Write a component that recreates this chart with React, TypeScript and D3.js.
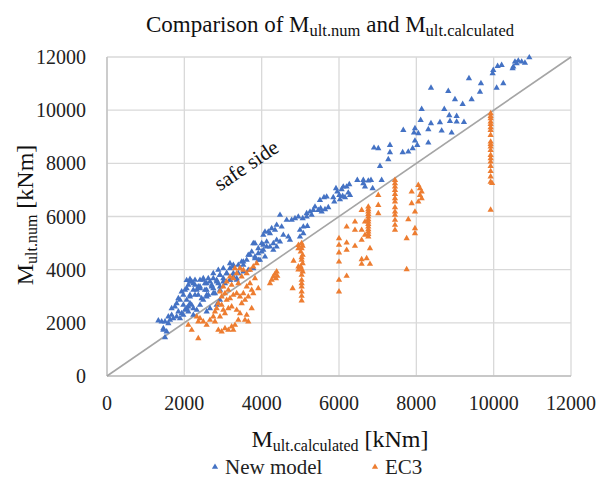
import React from "react";
import * as d3 from "d3";

const width = 603;
const height = 485;
const margin = { top: 57, right: 32, bottom: 109, left: 107 };

const xTicks = [0, 2000, 4000, 6000, 8000, 10000, 12000];
const yTicks = [0, 2000, 4000, 6000, 8000, 10000, 12000];

const seriesNames = ["New model", "EC3"];
const seriesColors = ["#4472C4", "#ED7D31"];

// [M_ult.calculated, M_ult.num] in kNm
const newModel: [number, number][] = [
  [10922, 11980], [10809, 11781], [10724, 11819], [10637, 11857], [10551, 11819], [10508, 11631],
  [10491, 11568], [10594, 11757], [10206, 11694], [10102, 11656], [9990, 11506], [9973, 11380],
  [10249, 11005], [10077, 10840], [9671, 11005], [9646, 10690], [9361, 11193], [8826, 10716],
  [8379, 10840], [8999, 10404], [9198, 10227], [9430, 10404], [8138, 10039], [8723, 10039],
  [8852, 9802], [9043, 9776], [8870, 9588], [9043, 9563], [9232, 9550], [8611, 9538],
  [8379, 9500], [8112, 9626], [7965, 9312], [7939, 9149], [8051, 9124], [7663, 9250],
  [8310, 9274], [8655, 9224], [8913, 9149], [7965, 8848], [8025, 8686], [7905, 8560],
  [7792, 8434], [7646, 8409], [8310, 8773],
  [7318, 8686], [7016, 8560], [6905, 8585], [7318, 8410], [7275, 8147], [7060, 7896],
  [7103, 7370], [6827, 7370], [6758, 7344], [6629, 7370], [6474, 7370], [6629, 7244],
  [6672, 7118], [6870, 7057], [6266, 7207], [6197, 7118], [6111, 7118], [6068, 7018],
  [5922, 7057], [5956, 6930], [6008, 6806], [6240, 6893], [6284, 6806], [6155, 6719],
  [6025, 6644], [5878, 6554], [5681, 6743], [5612, 6719], [5723, 6343], [5638, 6268],
  [5508, 6618], [5465, 6242], [5552, 6178], [5336, 6242], [5250, 6178], [5164, 6117],
  [5293, 6054], [5164, 5990], [5061, 5929], [5078, 5614], [5181, 5640], [4991, 5490],
  [5078, 5365], [4991, 5238], [5379, 6366], [5852, 6719], [6094, 6768], [5525, 6305],
  [4948, 5990], [4862, 5929], [4776, 5866], [4647, 5866], [4474, 6054], [4517, 5614],
  [4388, 5678], [4345, 5490], [4259, 5553], [4215, 5365], [4086, 5426], [4560, 5302],
  [4689, 5238], [4732, 5114], [4474, 5050], [4388, 4862], [4302, 4738], [4129, 4862],
  [4043, 4926], [4001, 4674], [3913, 4801], [3783, 4989], [3698, 4550], [3827, 4486],
  [3913, 4362], [3613, 4362], [3483, 4298], [3526, 4174], [3439, 4050], [3396, 3862],
  [3267, 4174], [3181, 4050], [3095, 3862], [2922, 3798], [3008, 3673], [2836, 3610],
  [2749, 3673], [2663, 3546], [2577, 3484], [2490, 3610], [2405, 3358], [2534, 3234],
  [2707, 3358], [2879, 3484], [3051, 3484], [3181, 3610], [3267, 3735], [3354, 3610],
  [3526, 3923], [3654, 3986], [3783, 4050], [2922, 3234], [2749, 3109], [2620, 3046],
  [2447, 2922],
  [4172, 5426], [4043, 5302], [3827, 4989], [4001, 4989], [4129, 5050], [4302, 4989],
  [4388, 5114], [4215, 4862], [4043, 4738], [3913, 4612], [3742, 4674], [3654, 4550],
  [3827, 4425], [3956, 4362], [4086, 4486], [3526, 4298], [3396, 4174], [3267, 4110],
  [3181, 4237], [3008, 4050], [2879, 3986], [2749, 3862], [2922, 3798], [3095, 3862],
  [3267, 3862], [2620, 3673], [2490, 3673], [2405, 3610], [2146, 3546], [2276, 3422],
  [2534, 3484], [2707, 3422], [2836, 3546], [3008, 3546], [3181, 3610], [3354, 3673],
  [2060, 3298], [2233, 3234], [2405, 3298], [2577, 3234], [2749, 3298], [2922, 3358],
  [1974, 3046], [2146, 3046], [2361, 3046], [2577, 3046], [2793, 3109],
  [1328, 2080], [1414, 2042], [1500, 1454], [1543, 1667], [1457, 1792], [1629, 2106],
  [1715, 2168], [1672, 2294], [1586, 2231], [1801, 2231], [1888, 2168], [1845, 2419],
  [1931, 2356], [1974, 2294], [2017, 2482], [2060, 2544], [2103, 2607], [2146, 2732],
  [2190, 2670], [2233, 2544], [1974, 2670], [1888, 2858], [2060, 2858], [2146, 2983],
  [2276, 3046], [2320, 3234], [2361, 3358], [2233, 3484], [2190, 3546], [2103, 3422],
  [2017, 3234], [1931, 3171], [1845, 2922], [1758, 2607], [1672, 2544], [1801, 2732],
  [2103, 2419], [2233, 2294], [2320, 2482], [2276, 3610], [2146, 3640], [2060, 3600],
  [1500, 2042], [1586, 1981], [1457, 1730], [2577, 2419], [2490, 2858], [2577, 2983],
  [2836, 2670], [2922, 2858], [2663, 2544], [2405, 2670],
];

const ec3: [number, number][] = [
  [2103, 1918], [2190, 1730], [2361, 1417], [2320, 2231], [2405, 2168], [2361, 2042],
  [2490, 2042], [2577, 1918], [2663, 2106], [2749, 2231], [2793, 2419], [2836, 2544],
  [2879, 2732], [2965, 2670], [3008, 2482], [3051, 2356], [2922, 2231], [2793, 2042],
  [2879, 1730], [2965, 1667], [3051, 1792], [3138, 1730], [3224, 1855], [3267, 1730],
  [3310, 1918], [3396, 2106], [3439, 2356], [3569, 2106], [3654, 2042], [3742, 2544],
  [3613, 2294], [3354, 2482], [3224, 2607], [3138, 2544], [3095, 2858], [3181, 2922],
  [3267, 3046], [3354, 3109], [3439, 2983], [3526, 3109], [3613, 3358], [3698, 3484],
  [3742, 3234], [3654, 2983], [3569, 2858], [3483, 2732], [3396, 3484], [3483, 3735],
  [3526, 3986], [3439, 4050], [3354, 3862], [3267, 3673], [3224, 3422], [3138, 3234],
  [3051, 3109], [2965, 2983], [2922, 3171], [3008, 3358], [3095, 3546], [3181, 3735],
  [3310, 4050], [3613, 3862], [3698, 3986], [3783, 4112], [3870, 4237], [3827, 3673],
  [3783, 3109], [3913, 3298],
  [4259, 3610], [4302, 3735], [4345, 3835], [4388, 3923], [4370, 3673], [4405, 3760], [4215, 3484],
  [5034, 4989], [5060, 4888], [5034, 4801], [5010, 4674], [5060, 4550], [5034, 4463],
  [5034, 4362], [5060, 4237], [5010, 4110], [5034, 4012], [5060, 3923], [5034, 3798],
  [5034, 3610], [5034, 3484], [5034, 3358], [5034, 3170], [5034, 3008], [5034, 2831],
  [4950, 4925], [4950, 4800], [4950, 4110], [4950, 4000], [4825, 4329], [4801, 3298],
  [6000, 5177], [6000, 4926], [6000, 4637], [6000, 4298], [6000, 3610], [6000, 3170],
  [6198, 5614], [6198, 5012], [6198, 4738], [6198, 3760], [6413, 5802], [6413, 5490], [6413, 4888],
  [6758, 6366], [6758, 6268], [6758, 6178], [6758, 6091], [6758, 5990], [6758, 5892],
  [6758, 5802], [6758, 5715], [6758, 5614], [6758, 5516], [6758, 5426], [6758, 5339], [6758, 5238],
  [6672, 5802], [6672, 5302], [6586, 6242], [6586, 5490], [6586, 5114], [6586, 4387],
  [6586, 4211], [6801, 4801], [6801, 4211], [6715, 4425], [7016, 6806], [7016, 6430], [7016, 6117],
  [7448, 7370], [7448, 7244], [7448, 7118], [7448, 6994], [7448, 6843], [7448, 6681],
  [7448, 6554], [7448, 6343], [7448, 6178], [7448, 6054], [7448, 5866], [7448, 5678], [7448, 5490],
  [7750, 5177], [7750, 4012], [7792, 5892], [7879, 6930], [7879, 6493], [7965, 6178],
  [7965, 5553], [7965, 5365], [8051, 7182], [8094, 7057], [8138, 6930], [8094, 6806],
  [8138, 6681], [8051, 6554],
  [9922, 9877], [9922, 9776], [9922, 9689], [9922, 9562], [9922, 9475], [9922, 9351],
  [9922, 9250], [9922, 9062], [9922, 8810], [9922, 8723], [9922, 8622], [9922, 8498],
  [9922, 8310], [9922, 8185], [9922, 8058], [9922, 7896], [9922, 7700], [9922, 7500],
  [9922, 7300], [9960, 7250], [9922, 6250],
];

const font = "Liberation Serif";

export default function App() {
  const x = d3
    .scaleLinear()
    .domain([0, 12000])
    .range([margin.left, width - margin.right]);
  const y = d3
    .scaleLinear()
    .domain([0, 12000])
    .range([height - margin.bottom, margin.top]);

  const tri = d3.symbol(d3.symbolTriangle).size(17)();
  const diag = d3.line<number>().x(d => x(d)).y(d => y(d))([0, 12000]);

  const series = [newModel, ec3];

  return (
    <svg
      width={width}
      height={height}
      style={{ position: "absolute", left: 0, top: 0, background: "#fff", fontFamily: font }}
    >
      {/* grid */}
      {xTicks.map(t => (
        <line key={"gx" + t} x1={x(t)} x2={x(t)} y1={y(0)} y2={y(12000)} stroke="#d9d9d9" strokeWidth={1.3} />
      ))}
      {yTicks.map(t => (
        <line key={"gy" + t} x1={x(0)} x2={x(12000)} y1={y(t)} y2={y(t)} stroke="#d9d9d9" strokeWidth={1.3} />
      ))}
      <line x1={x(0)} x2={x(0)} y1={y(0)} y2={y(12000)} stroke="#bfbfbf" strokeWidth={1.3} />
      <line x1={x(0)} x2={x(12000)} y1={y(0)} y2={y(0)} stroke="#bfbfbf" strokeWidth={1.3} />

      {/* tick labels */}
      {xTicks.map(t => (
        <text key={"tx" + t} x={x(t)} y={410} textAnchor="middle" fontSize={20} fontFamily={font} fill="#222">
          {t}
        </text>
      ))}
      {yTicks.map(t => (
        <text key={"ty" + t} x={86} y={y(t)} dy="0.35em" textAnchor="end" fontSize={20} fontFamily={font} fill="#222">
          {t}
        </text>
      ))}

      {/* y = x */}
      <path d={diag || ""} stroke="#a5a5a5" strokeWidth={1.6} fill="none" />

      {/* points */}
      {series.map((pts, i) =>
        pts.map((d, j) => (
          <path
            key={i + "-" + j}
            d={tri || ""}
            transform={`translate(${x(d[0])},${y(d[1])})`}
            fill={seriesColors[i]}
          />
        ))
      )}

      <text
        x={246}
        y={165}
        transform="rotate(-34 246 165)"
        textAnchor="middle"
        dy="0.35em"
        fontSize={21}
        fontFamily={font}
        fill="#111"
      >
        safe side
      </text>

      {/* title */}
      <text x={330} y={32} textAnchor="middle" fontSize={23} fontFamily={font} fill="#111">
        Comparison of M
        <tspan fontSize={16.5} dy={4}>ult.num</tspan>
        <tspan dy={-4}> and M</tspan>
        <tspan fontSize={16.5} dy={4}>ult.calculated</tspan>
      </text>

      {/* axis titles */}
      <text x={340} y={447} textAnchor="middle" fontSize={24} fontFamily={font} fill="#111">
        M<tspan fontSize={16} dy={4}>ult.calculated</tspan>
        <tspan dy={-4}> [kNm]</tspan>
      </text>
      <text
        transform="translate(33,215) rotate(-90)"
        textAnchor="middle"
        fontSize={24}
        fontFamily={font}
        fill="#111"
      >
        M<tspan fontSize={16} dy={4}>ult.num</tspan>
        <tspan dy={-4}> [kNm]</tspan>
      </text>

      {/* legend */}
      {seriesNames.map((name, i) => {
        const lx = i === 0 ? 215 : 375;
        return (
          <g key={name}>
            <path d={tri || ""} transform={`translate(${lx},${467})`} fill={seriesColors[i]} />
            <text x={lx + 10} y={474} fontSize={21} fontFamily={font} fill="#222">
              {name}
            </text>
          </g>
        );
      })}
    </svg>
  );
}
